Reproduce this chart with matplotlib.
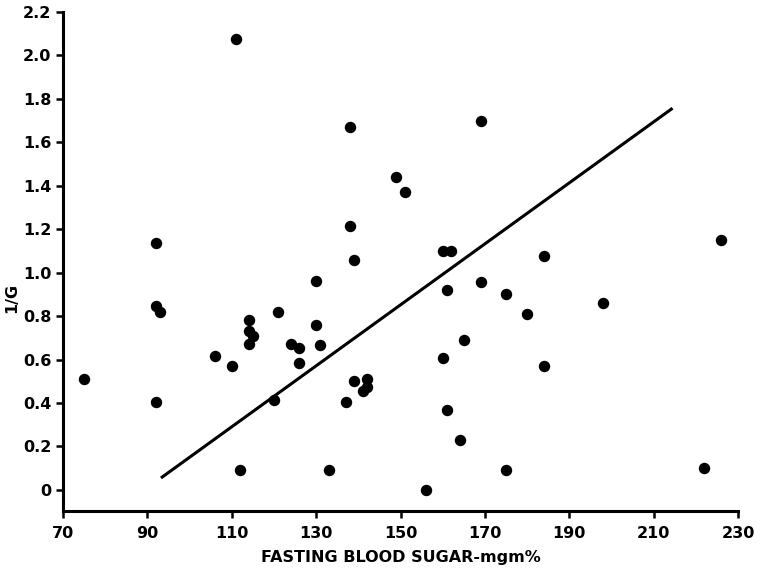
import matplotlib
matplotlib.use("Agg")
import matplotlib.pyplot as plt

# fasting blood sugar (mgm%) and 1/G
sugar = [75, 92, 92, 93, 92, 111, 106, 110, 114, 114, 115, 114, 112, 121,
         120, 124, 126, 126, 130, 130, 131, 133, 138, 138, 139, 139, 137,
         141, 142, 142, 149, 151, 160, 162, 161, 160, 161, 164, 165, 156,
         169, 169, 175, 175, 180, 184, 184, 198, 226, 222]
inv_g = [0.51, 1.135, 0.845, 0.82, 0.405, 2.075, 0.617, 0.57, 0.78, 0.73,
         0.71, 0.67, 0.09, 0.82, 0.415, 0.67, 0.655, 0.585, 0.96, 0.757,
         0.665, 0.09, 1.67, 1.217, 1.06, 0.50, 0.405, 0.455, 0.51, 0.475,
         1.44, 1.37, 1.10, 1.10, 0.92, 0.605, 0.37, 0.23, 0.69, 0.0,
         1.70, 0.955, 0.90, 0.09, 0.81, 1.075, 0.57, 0.86, 1.15, 0.10]

# regression line end points
line_x = [93.2, 214.5]
line_y = [0.055, 1.757]

xticks = [70, 90, 110, 130, 150, 170, 190, 210, 230]
yticks = [0, 0.2, 0.4, 0.6, 0.8, 1.0, 1.2, 1.4, 1.6, 1.8, 2.0, 2.2]
ylabels = ["0", "0.2", "0.4", "0.6", "0.8", "1.0", "1.2", "1.4", "1.6",
           "1.8", "2.0", "2.2"]

fig = plt.figure(figsize=(7.6, 5.7), dpi=100)
ax = fig.add_axes([0.083, 0.1035, 0.888, 0.8755])

ax.scatter(sugar, inv_g, s=52, color="black", zorder=3)
ax.plot(line_x, line_y, color="black", linewidth=2.2, solid_capstyle="butt")

ax.set_xlim(70, 230)
ax.set_ylim(-0.097, 2.2)
ax.set_xticks(xticks)
ax.set_xticklabels([str(t) for t in xticks])
ax.set_yticks(yticks)
ax.set_yticklabels(ylabels)

for side in ["top", "right"]:
    ax.spines[side].set_visible(False)
for side in ["left", "bottom"]:
    ax.spines[side].set_linewidth(2.2)

ax.tick_params(axis="both", direction="out", length=5, width=1.8,
               labelsize=11.5)
ax.tick_params(axis="x", pad=6)
for lab in ax.get_xticklabels() + ax.get_yticklabels():
    lab.set_fontweight("bold")

ax.set_xlabel("FASTING BLOOD SUGAR-mgm%", fontsize=11.5, fontweight="bold",
              labelpad=6)
ax.set_ylabel("1/G", fontsize=11.5, fontweight="bold")
ax.yaxis.set_label_coords(-0.065, 0.427)

fig.savefig("out.png", dpi=100)
